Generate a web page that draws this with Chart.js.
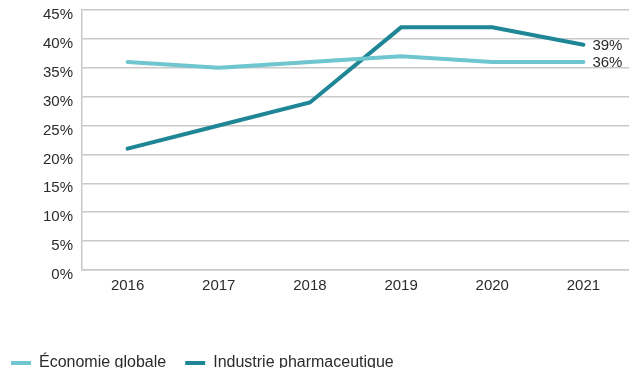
<!DOCTYPE html>
<html>
<head>
<meta charset="utf-8">
<script src="https://cdn.jsdelivr.net/npm/chart.js@4/dist/chart.umd.min.js"></script>
<style>
  html, body { margin: 0; padding: 0; background: #fff; overflow: hidden; }
  #wrap { position: relative; width: 629px; height: 381px; }
</style>
</head>
<body>
<div id="wrap"><canvas id="line-chart"></canvas></div>
<script>
var years = ['2016', '2017', '2018', '2019', '2020', '2021'];
var economie = [36, 35, 36, 37, 36, 36];
var pharma = [21, 25, 29, 42, 42, 39];
var seriesNames = ['Économie globale', 'Industrie pharmaceutique'];

var FONT = '"Liberation Sans", Arial, sans-serif';
var TEXT = '#2b2b2b';
var GRID = '#c9c9c9';

// percent label written just right of the last point of each line
var endLabels = {
  id: 'endLabels',
  afterDatasetsDraw: function(chart) {
    var ctx = chart.ctx;
    ctx.save();
    ctx.font = '15px ' + FONT;
    ctx.fillStyle = TEXT;
    ctx.textAlign = 'left';
    ctx.textBaseline = 'middle';
    chart.data.datasets.forEach(function(ds, i) {
      var pts = chart.getDatasetMeta(i).data;
      var last = pts[pts.length - 1];
      ctx.fillText(ds.data[ds.data.length - 1] + '%', last.x + 9, last.y + 1);
    });
    ctx.restore();
  }
};

// wide gap between legend items but keep the first one near the left edge
var legendShift = {
  id: 'legendShift',
  afterLayout: function(chart) {
    chart.legend.left -= 8;
  }
};

new Chart(document.getElementById('line-chart'), {
  type: 'line',
  data: {
    labels: years,
    datasets: [{
      label: seriesNames[0],
      data: economie,
      borderColor: '#6fc6cf',
      backgroundColor: '#6fc6cf',
      borderWidth: 4,
      borderCapStyle: 'round',
      pointRadius: 0,
      tension: 0
    }, {
      label: seriesNames[1],
      data: pharma,
      borderColor: '#1f8696',
      backgroundColor: '#1f8696',
      borderWidth: 4,
      borderCapStyle: 'round',
      pointRadius: 0,
      tension: 0
    }]
  },
  options: {
    responsive: true,
    maintainAspectRatio: false,
    animation: false,
    layout: { padding: { left: 0, top: 10, right: 0, bottom: 0 } },
    plugins: {
      tooltip: { enabled: false },
      legend: {
        position: 'bottom',
        align: 'start',
        title: { display: true, text: '', font: { size: 10 }, padding: { top: 22, bottom: 0 } },
        labels: {
          usePointStyle: true,
          pointStyle: 'line',
          pointStyleWidth: 20,
          padding: 19,
          color: TEXT,
          font: { family: FONT, size: 16 }
        }
      }
    },
    scales: {
      x: {
        offset: true,
        grid: { display: false, drawTicks: false },
        border: { display: true, color: GRID, width: 1.5 },
        ticks: { color: TEXT, padding: 7, font: { family: FONT, size: 15 } }
      },
      y: {
        min: 0,
        max: 45,
        afterFit: function(scale) {
          scale.width = 82;
          scale.paddingTop = 0;
        },
        grid: { color: GRID, lineWidth: 1.5, drawTicks: false },
        border: { display: true, color: GRID, width: 1.5 },
        ticks: {
          stepSize: 5,
          padding: 9,
          labelOffset: 5,
          color: TEXT,
          font: { family: FONT, size: 15 },
          callback: function(v) { return v + '%'; }
        }
      }
    }
  },
  plugins: [endLabels, legendShift]
});
</script>
</body>
</html>
